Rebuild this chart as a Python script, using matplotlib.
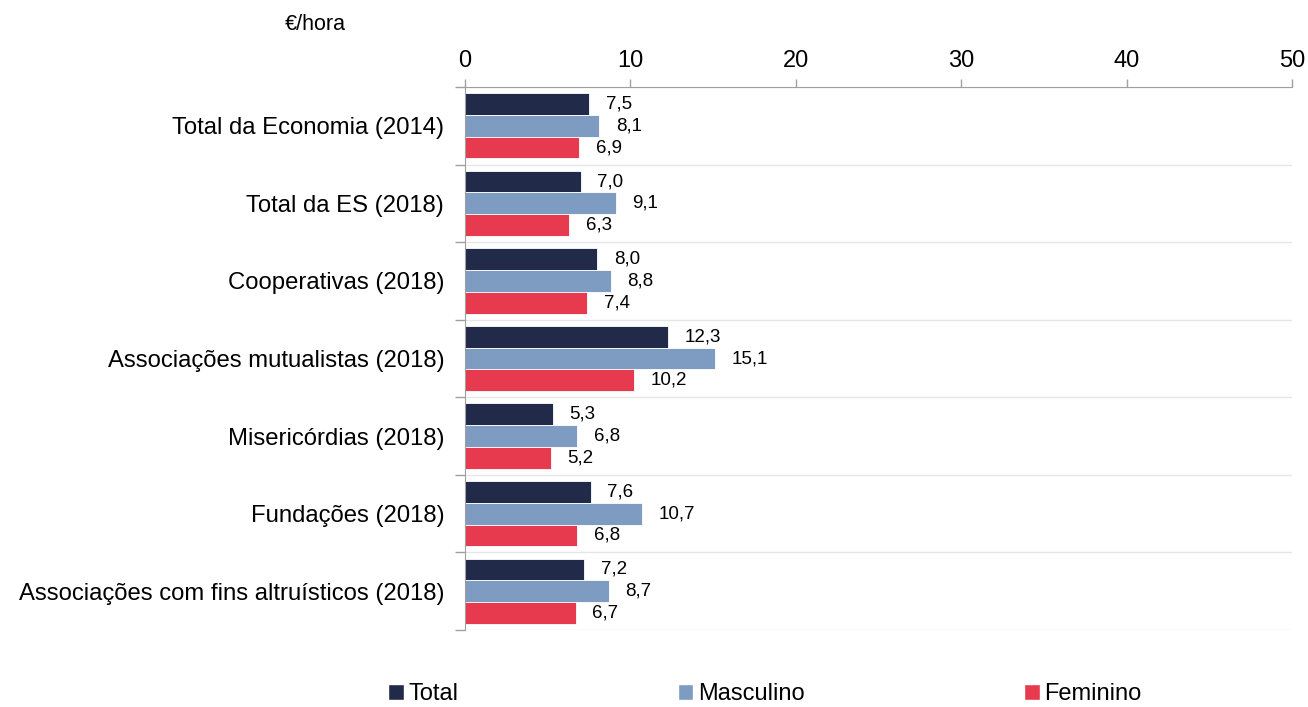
import matplotlib
matplotlib.use("Agg")
import matplotlib.pyplot as plt
import numpy as np
from matplotlib.patches import Patch

plt.rcParams['font.family'] = ['Liberation Sans', 'DejaVu Sans']

categories = ["Total da Economia (2014)", "Total da ES (2018)", "Cooperativas (2018)",
              "Associações mutualistas (2018)", "Misericórdias (2018)", "Fundações (2018)",
              "Associações com fins altruísticos (2018)"]
series_names = ["Total", "Masculino", "Feminino"]
total = [7.5, 7.0, 8.0, 12.3, 5.3, 7.6, 7.2]
masculino = [8.1, 9.1, 8.8, 15.1, 6.8, 10.7, 8.7]
feminino = [6.9, 6.3, 7.4, 10.2, 5.2, 6.8, 6.7]
x_ticks = [0, 10, 20, 30, 40, 50]
unit_label = "€/hora"

colors = ["#212A48", "#7E9BC2", "#E73A4F"]

fig = plt.figure(figsize=(13.08, 7.07), dpi=100)
ax = fig.add_axes([465/1308, 1-630/707, (1292-465)/1308, (630-87)/707])

n = len(categories)
y = np.arange(n)
bh = 0.28
offsets = [-bh, 0, bh]
for vals, off, col in zip([total, masculino, feminino], offsets, colors):
    bars = ax.barh(y + off, vals, height=bh, color=col, edgecolor='white', linewidth=0.6)
    for b, v in zip(bars, vals):
        ax.annotate(f"{v:.1f}".replace('.', ','), xy=(v, b.get_y() + b.get_height()/2),
                    xytext=(12, 0), textcoords='offset points', ha='left', va='center',
                    fontsize=13.5, color='black')

ax.set_xlim(0, 50)
ax.set_ylim(n - 0.5, -0.5)
ax.xaxis.tick_top()
ax.set_xticks(x_ticks)
ax.set_xticklabels([str(t) for t in x_ticks], fontsize=17)
ax.tick_params(axis='x', direction='out', length=6, color='#A0A0A0', pad=5, width=1)
ax.set_yticks(y)
ax.set_yticklabels(categories, fontsize=17.2)
ax.tick_params(axis='y', which='major', length=0, pad=15)
ax.set_yticks(np.arange(n + 1) - 0.5, minor=True)
ax.tick_params(axis='y', which='minor', length=7, color='#A0A0A0', width=1)
ax.grid(axis='y', which='minor', color='#E6E6E6', linewidth=1)
ax.set_axisbelow(True)

for s in ['right', 'bottom']:
    ax.spines[s].set_visible(False)
ax.spines['top'].set_color('#A0A0A0')
ax.spines['left'].set_color('#A0A0A0')

fig.text(285/1308, 1-25/707, unit_label, fontsize=15.5, ha='left', va='center')

handles = [Patch(facecolor=c, edgecolor='white') for c in colors]
fig.legend(handles, series_names, loc='center', bbox_to_anchor=(765/1308, 1-694/707),
           ncol=3, frameon=False, fontsize=17, handlelength=0.65, handleheight=0.65,
           handletextpad=0.2, columnspacing=9.3, borderaxespad=0, borderpad=0)

fig.savefig("out.png", dpi=100)
